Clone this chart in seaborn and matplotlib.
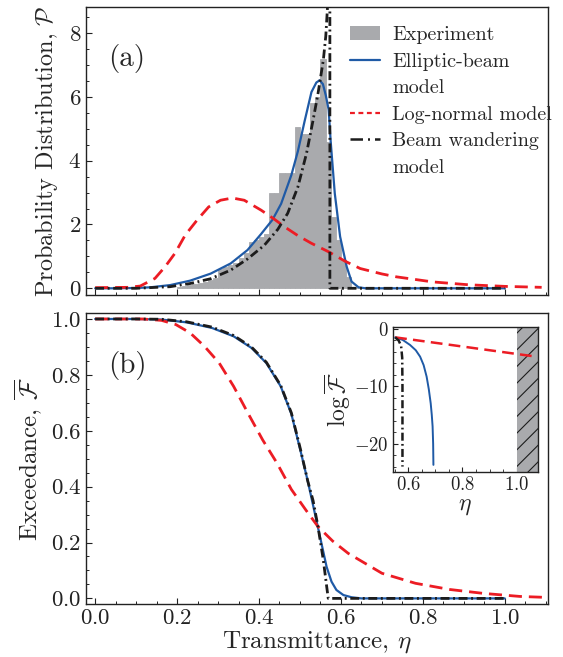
import numpy as np
import pandas as pd
import matplotlib
matplotlib.use("Agg")
import matplotlib.pyplot as plt
import seaborn as sns
from matplotlib.lines import Line2D
from matplotlib.patches import Patch
from matplotlib.ticker import MultipleLocator

# --- data ---
# (a) histogram of measured transmittance, bins of 0.0125 from 0.2 to 1.0
hist_start, hist_stop, hist_width = 0.2, 1.0, 0.0125
hist_heights = [0.05, 0.07, 0.09, 0.12, 0.16, 0.20, 0.25, 0.32,
                0.62, 0.66, 0.72, 0.80, 0.95, 1.10, 1.45, 1.50,
                1.62, 1.70, 3.00, 3.00, 3.60, 3.60, 3.60, 5.06,
                4.85, 4.85, 5.80, 6.00, 7.20, 4.60, 2.25, 1.50,
                0.90, 0.35, 0.05, 0.00, 0.00, 0.00, 0.00, 0.00,
                0.00, 0.00, 0.00, 0.00, 0.00, 0.00, 0.00, 0.00,
                0.00, 0.00, 0.00, 0.00, 0.00, 0.00, 0.00, 0.00,
                0.00, 0.00, 0.00, 0.00, 0.00, 0.00, 0.00, 0.00]

eta_ell = [0.0, 0.05, 0.10, 0.134, 0.183, 0.232, 0.282, 0.331, 0.372, 0.405,
           0.433, 0.454, 0.479, 0.495, 0.511, 0.528, 0.540, 0.548, 0.556, 0.563,
           0.570, 0.575, 0.585, 0.598, 0.614, 0.626, 0.643, 0.66, 1.0]
pdf_ell = [0.0, 0.0, 0.01, 0.03, 0.10, 0.24, 0.46, 0.78, 1.20, 1.70,
           2.15, 2.65, 3.55, 4.30, 5.22, 6.15, 6.45, 6.52, 6.40, 6.05,
           5.60, 4.60, 2.97, 1.62, 0.68, 0.21, 0.03, 0.0, 0.0]

eta_ln = [0.0, 0.08, 0.11, 0.146, 0.171, 0.195, 0.220, 0.249, 0.277, 0.306,
          0.335, 0.364, 0.405, 0.437, 0.462, 0.495, 0.528, 0.569, 0.61, 0.647,
          0.70, 0.735, 0.824, 0.912, 1.0, 1.09]
pdf_ln = [0.02, 0.03, 0.07, 0.31, 0.68, 1.10, 1.67, 2.14, 2.55, 2.76,
          2.83, 2.76, 2.45, 2.17, 1.93, 1.65, 1.41, 1.15, 0.85, 0.62,
          0.45, 0.36, 0.20, 0.11, 0.06, 0.03]

eta_bw = [0.0, 0.10, 0.183, 0.232, 0.282, 0.331, 0.372, 0.413, 0.446, 0.470,
          0.495, 0.516, 0.532, 0.544, 0.557, 0.563, 0.569, 0.573, 0.573, 1.0]
pdf_bw = [0.0, 0.0, 0.05, 0.15, 0.30, 0.57, 0.92, 1.35, 1.85, 2.35,
          3.18, 4.23, 5.27, 6.10, 7.15, 7.90, 9.20, 9.20, 0.0, 0.0]

# (b) exceedance
ex_eta_ell = [0.0, 0.10, 0.162, 0.223, 0.285, 0.338, 0.382, 0.418, 0.453, 0.479,
              0.501, 0.519, 0.537, 0.552, 0.565, 0.577, 0.589, 0.606, 0.626, 0.65, 1.0]
ex_ell = [1.0, 1.0, 0.998, 0.988, 0.968, 0.938, 0.896, 0.842, 0.759, 0.66,
          0.53, 0.42, 0.30, 0.20, 0.113, 0.06, 0.03, 0.012, 0.004, 0.0, 0.0]

ex_eta_bw = [0.0, 0.10, 0.162, 0.223, 0.285, 0.338, 0.382, 0.418, 0.453, 0.479,
             0.501, 0.519, 0.532, 0.544, 0.557, 0.565, 0.569, 1.0]
ex_bw = [1.0, 1.0, 0.999, 0.99, 0.971, 0.941, 0.899, 0.845, 0.762, 0.664,
         0.535, 0.42, 0.35, 0.257, 0.137, 0.045, 0.0, 0.0]

ex_eta_ln = [0.0, 0.117, 0.162, 0.197, 0.232, 0.267, 0.303, 0.338, 0.373, 0.409,
             0.444, 0.479, 0.515, 0.544, 0.58, 0.618, 0.70, 0.782, 0.865, 0.947,
             1.037, 1.093]
ex_ln = [1.0, 1.0, 0.995, 0.98, 0.95, 0.902, 0.842, 0.759, 0.663, 0.567,
         0.484, 0.39, 0.315, 0.257, 0.205, 0.161, 0.090, 0.054, 0.032, 0.018,
         0.007, 0.004]

# inset: log exceedance
in_eta_ell = [0.552, 0.58, 0.607, 0.628, 0.644, 0.657, 0.668, 0.676, 0.683, 0.687, 0.690, 0.692, 0.693]
in_ell = [-1.45, -1.9, -2.78, -3.7, -4.82, -6.3, -8.31, -10.5, -12.96, -15.0, -17.0, -20.0, -23.7]
in_eta_bw = [0.552, 0.565, 0.574, 0.578, 0.579, 0.579]
in_bw = [-1.45, -2.0, -2.96, -5.0, -10.0, -24.0]
in_eta_ln = [0.552, 0.80, 1.072]
in_ln = [-1.45, -3.05, -4.82]
unphysical_from = 1.0

# --- style ---
grey = "#a9aaad"
blue = "#1f5aa6"
red = "#ec1c24"
black = "#1c1c1c"
dash_red = (0, (4.7, 2.5))
dash_bw = (0, (3.2, 1.3, 0.7, 1.3))

sns.set_theme(style="ticks")
plt.rcParams.update({
    "font.family": "serif",
    "font.serif": ["cmr10"],
    "mathtext.fontset": "cm",
    "axes.formatter.use_mathtext": True,
    "axes.edgecolor": "#222222",
    "axes.linewidth": 1.0,
    "xtick.direction": "in",
    "ytick.direction": "in",
    "xtick.color": "#222222",
    "ytick.color": "#222222",
    "hatch.linewidth": 0.8,
})

fig = plt.figure(figsize=(5.63, 6.57), dpi=100)
ax1 = fig.add_axes([0.153, 0.551, 0.820, 0.438])
ax2 = fig.add_axes([0.153, 0.0807, 0.820, 0.4423])
axin = fig.add_axes([0.6975, 0.2811, 0.2575, 0.2207])


def line(ax, x, y, color, lw, ls="-", z=3):
    sns.lineplot(x=x, y=y, ax=ax, color=color, lw=lw, linestyle=ls,
                 sort=False, estimator=None, zorder=z)


# --- (a) probability distribution ---
n_bins = len(hist_heights)
hist_df = pd.DataFrame({
    "eta": hist_start + hist_width * (np.arange(n_bins) + 0.5),
    "height": hist_heights,
})
sns.histplot(data=hist_df, x="eta", weights="height", binwidth=hist_width,
             binrange=(hist_start, hist_stop), ax=ax1, color=grey, alpha=1.0,
             edgecolor=grey, linewidth=0.6, zorder=1)
line(ax1, eta_ell, pdf_ell, blue, 1.6)
line(ax1, eta_ln, pdf_ln, red, 2.0, dash_red)
line(ax1, eta_bw, pdf_bw, black, 2.0, dash_bw, z=4)

ax1.set_xlim(-0.022, 1.105)
ax1.set_ylim(-0.21, 8.81)
ax1.xaxis.set_major_locator(MultipleLocator(0.2))
ax1.xaxis.set_minor_locator(MultipleLocator(0.05))
ax1.yaxis.set_major_locator(MultipleLocator(2))
ax1.yaxis.set_minor_locator(MultipleLocator(0.5))
ax1.tick_params(axis="x", labelbottom=False)
ax1.set_xlabel("")
ax1.set_ylabel(r"Probability Distribution, $\mathcal{P}$", fontsize=17.5, labelpad=6)
ax1.text(0.048, 0.822, "(a)", transform=ax1.transAxes, fontsize=21, va="center")

# legend: second lines of the long labels get an empty handle, so each
# coloured key sits level with the first line of its label
blank = Line2D([], [], color="none")
handles = [Patch(facecolor=grey, edgecolor="none"),
           Line2D([], [], color=blue, lw=1.6), blank,
           Line2D([], [], color=red, lw=1.6, linestyle=(0, (2.2, 1.6))),
           Line2D([], [], color=black, lw=1.8, linestyle=(0, (5.0, 2.0, 0.8, 2.0))),
           blank]
labels = ["Experiment", "Elliptic-beam", "model", "Log-normal model",
          "Beam wandering", "model"]
ax1.legend(handles, labels, loc="upper left", bbox_to_anchor=(0.571, 0.935),
           frameon=False, fontsize=14.5, handlelength=1.5, handletextpad=0.62,
           labelspacing=0.42, borderpad=0, borderaxespad=0)

# --- (b) exceedance ---
line(ax2, ex_eta_ell, ex_ell, blue, 1.6)
line(ax2, ex_eta_ln, ex_ln, red, 2.0, dash_red)
line(ax2, ex_eta_bw, ex_bw, black, 2.0, dash_bw, z=4)
ax2.set_xlim(-0.022, 1.105)
ax2.set_ylim(-0.02, 1.02)
ax2.xaxis.set_major_locator(MultipleLocator(0.2))
ax2.xaxis.set_minor_locator(MultipleLocator(0.05))
ax2.yaxis.set_major_locator(MultipleLocator(0.2))
ax2.yaxis.set_minor_locator(MultipleLocator(0.05))
ax2.set_xlabel(r"Transmittance, $\eta$", fontsize=18, labelpad=1)
ax2.set_ylabel(r"Exceedance, $\overline{\mathcal{F}}$", fontsize=18, labelpad=5)
ax2.text(0.048, 0.822, "(b)", transform=ax2.transAxes, fontsize=21, va="center")

# --- inset: log exceedance ---
axin.axvspan(unphysical_from, 1.2, facecolor=grey, edgecolor=black,
             hatch="//", linewidth=0.0, zorder=1)
line(axin, in_eta_ell, in_ell, blue, 1.4)
line(axin, in_eta_ln, in_ln, red, 1.8, dash_red)
line(axin, in_eta_bw, in_bw, black, 1.8, dash_bw, z=4)
axin.set_xlim(0.543, 1.077)
axin.set_ylim(-25, 0.3)
axin.xaxis.set_major_locator(MultipleLocator(0.2))
axin.xaxis.set_minor_locator(MultipleLocator(0.05))
axin.yaxis.set_major_locator(MultipleLocator(10))
axin.yaxis.set_minor_locator(MultipleLocator(2))
axin.set_xlabel(r"$\eta$", fontsize=17, labelpad=0)
axin.set_ylabel(r"$\log\overline{\mathcal{F}}$", fontsize=17, labelpad=1)

for ax in (ax1, ax2):
    ax.tick_params(which="major", length=4, width=0.8, labelsize=16.5)
    ax.tick_params(which="minor", length=2.5, width=0.7)
axin.tick_params(which="major", length=3.5, width=0.8, labelsize=13.5, pad=3)
axin.tick_params(which="minor", length=2, width=0.6)

fig.savefig("out.png", dpi=100)
